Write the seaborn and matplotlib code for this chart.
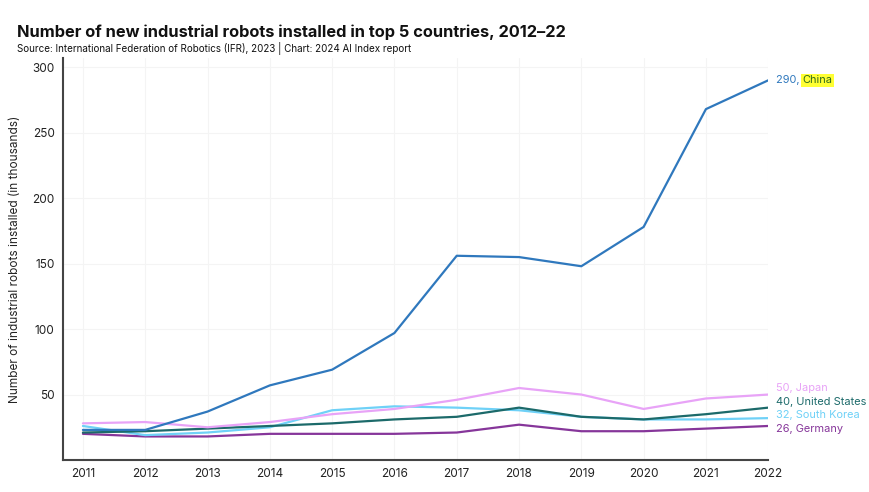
import pandas as pd
import matplotlib
matplotlib.use("Agg")
import matplotlib.pyplot as plt
import seaborn as sns

# data (thousands of units)
years = list(range(2011, 2023))
china = [23, 23, 37, 57, 69, 97, 156, 155, 148, 178, 268, 290]
japan = [28, 29, 25, 29, 35, 39, 46, 55, 50, 39, 47, 50]
united_states = [21, 22, 24, 26, 28, 31, 33, 40, 33, 31, 35, 40]
south_korea = [26, 19, 21, 25, 38, 41, 40, 38, 33, 31, 31, 32]
germany = [20, 18, 18, 20, 20, 20, 21, 27, 22, 22, 24, 26]

countries = ["China", "Japan", "United States", "South Korea", "Germany"]
series = [china, japan, united_states, south_korea, germany]
colors = {"China": "#2f78bd", "Japan": "#e8a3f7", "United States": "#1c6a6a",
          "South Korea": "#6fd1f7", "Germany": "#86369a"}

rows = []
for name, vals in zip(countries, series):
    for yr, v in zip(years, vals):
        rows.append({"year": yr, "robots": v, "country": name})
df = pd.DataFrame(rows)

sns.set_style("white")
plt.rcParams["font.family"] = ["Inter", "DejaVu Sans"]

fig = plt.figure(figsize=(8.7, 4.92), dpi=100)
ax = fig.add_axes([0.0724, 0.065, 0.8106, 0.817])

sns.lineplot(data=df, x="year", y="robots", hue="country", palette=colors,
             hue_order=countries[::-1], linewidth=1.6, legend=False, ax=ax)

ax.set_xlim(2010.68, 2022)
ax.set_ylim(0, 307)
ax.set_xticks(years)
ax.set_yticks([50, 100, 150, 200, 250, 300])
ax.tick_params(axis="both", labelsize=8.5, length=0, pad=6, colors="#222222")
ax.grid(True, color="#f4f4f4", linewidth=0.8)
ax.set_axisbelow(True)
for side in ["top", "right"]:
    ax.spines[side].set_visible(False)
for side in ["left", "bottom"]:
    ax.spines[side].set_color("#444444")
    ax.spines[side].set_linewidth(1.5)
ax.set_xlabel("")
ax.set_ylabel("Number of industrial robots installed (in thousands)", fontsize=8.5,
              color="#222222", labelpad=8)

# end labels
lx = 2022.12
fs = 7.9
label_y = {"China": 290, "Japan": 55, "United States": 44.5, "South Korea": 34.5, "Germany": 24}
for name, vals in zip(countries, series):
    if name == "China":
        ax.text(lx, label_y[name], f"{vals[-1]}, ", color=colors[name], fontsize=fs,
                va="center", ha="left", clip_on=False)
        ax.annotate("China", xy=(lx, label_y[name]), xytext=(19.5, 0),
                    textcoords="offset points", color="#2f6a1a", fontsize=fs,
                    va="center", ha="left", annotation_clip=False,
                    bbox=dict(boxstyle="square,pad=0.12", fc="#ffff33", ec="none"))
    else:
        ax.text(lx, label_y[name], f"{vals[-1]}, {name}", color=colors[name],
                fontsize=fs, va="center", ha="left", clip_on=False)

fig.text(0.02, 0.935, "Number of new industrial robots installed in top 5 countries, 2012\u201322",
         fontsize=11.8, fontweight="bold", color="#111111", va="center")
fig.text(0.02, 0.902, "Source: International Federation of Robotics (IFR), 2023 | Chart: 2024 AI Index report",
         fontsize=7.1, color="#111111", va="center")

fig.savefig("out.png", dpi=100)
